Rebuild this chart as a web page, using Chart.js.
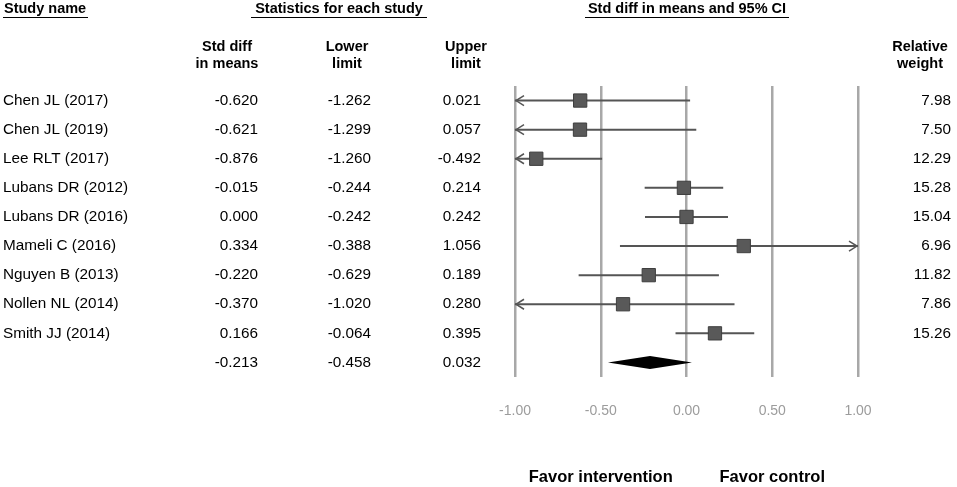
<!DOCTYPE html>
<html>
<head>
<meta charset="utf-8">
<script src="https://cdn.jsdelivr.net/npm/chart.js@4.4.1/dist/chart.umd.min.js"></script>
<style>
  body { margin: 0; background: #fff; }
  canvas { display: block; }
</style>
</head>
<body>
<canvas id="chart" width="957" height="487"></canvas>
<script>
// study data
const studies = ['Chen JL (2017)', 'Chen JL (2019)', 'Lee RLT (2017)', 'Lubans DR (2012)', 'Lubans DR (2016)',
                 'Mameli C (2016)', 'Nguyen B (2013)', 'Nollen NL (2014)', 'Smith JJ (2014)'];
const effect = [-0.620, -0.621, -0.876, -0.015, 0.000, 0.334, -0.220, -0.370, 0.166];
const lower  = [-1.262, -1.299, -1.260, -0.244, -0.242, -0.388, -0.629, -1.020, -0.064];
const upper  = [0.021, 0.057, -0.492, 0.214, 0.242, 1.056, 0.189, 0.280, 0.395];
const weight = [7.98, 7.50, 12.29, 15.28, 15.04, 6.96, 11.82, 7.86, 15.26];
const summaryEffect = [-0.213];
const summaryLower = [-0.458];
const summaryUpper = [0.032];
const xTicks = [-1, -0.5, 0, 0.5, 1];

const X_MIN = -1, X_MAX = 1;
const FONT = '"Liberation Sans", Arial, sans-serif';
const summaryRow = studies.length;

const datasets = [];
// squares (drawn on top)
datasets.push({
    type: 'scatter',
    data: effect.map((e, i) => ({ x: e, y: i })),
    pointStyle: 'rect',
    pointRadius: 9.4,
    backgroundColor: '#595959',
    borderColor: '#3f3f3f',
    borderWidth: 1,
    order: 0
});
// confidence interval lines, clipped to the axis
studies.forEach((s, i) => {
    datasets.push({
        type: 'line',
        data: [{ x: Math.max(lower[i], X_MIN), y: i }, { x: Math.min(upper[i], X_MAX), y: i }],
        borderColor: '#555555',
        borderWidth: 2,
        pointRadius: 0,
        order: 1
    });
});

const forestText = {
    id: 'forestText',
    afterDatasetsDraw(chart) {
        const ctx = chart.ctx;
        const xs = chart.scales.x, ys = chart.scales.y;
        ctx.save();
        // arrow heads for intervals beyond the axis
        ctx.strokeStyle = '#555555';
        ctx.lineWidth = 1.5;
        studies.forEach((s, i) => {
            const y = ys.getPixelForValue(i);
            if (lower[i] < X_MIN) {
                const x = xs.getPixelForValue(X_MIN) + 1;
                ctx.beginPath();
                ctx.moveTo(x + 8, y - 5); ctx.lineTo(x, y); ctx.lineTo(x + 8, y + 5);
                ctx.stroke();
            }
            if (upper[i] > X_MAX) {
                const x = xs.getPixelForValue(X_MAX) - 1;
                ctx.beginPath();
                ctx.moveTo(x - 8, y - 5); ctx.lineTo(x, y); ctx.lineTo(x - 8, y + 5);
                ctx.stroke();
            }
        });
        // summary diamond
        const yc = ys.getPixelForValue(summaryRow);
        const half = 6.5;
        ctx.fillStyle = '#000';
        ctx.beginPath();
        ctx.moveTo(xs.getPixelForValue(summaryLower[0]), yc);
        ctx.lineTo(xs.getPixelForValue(summaryEffect[0]), yc - half);
        ctx.lineTo(xs.getPixelForValue(summaryUpper[0]), yc);
        ctx.lineTo(xs.getPixelForValue(summaryEffect[0]), yc + half);
        ctx.closePath();
        ctx.fill();
        ctx.restore();
    },
    afterDraw(chart) {
        const ctx = chart.ctx;
        const xs = chart.scales.x, ys = chart.scales.y;
        ctx.save();
        ctx.fillStyle = '#000';
        ctx.textBaseline = 'middle';

        // top headers with underline
        ctx.font = 'bold 14.5px ' + FONT;
        const heads = [
            ['Study name', 4, 'left', 3, 88],
            ['Statistics for each study', 339, 'center', 251, 427],
            ['Std diff in means and 95% CI', 687, 'center', 585, 789]
        ];
        ctx.strokeStyle = '#000';
        ctx.lineWidth = 1.2;
        heads.forEach(h => {
            ctx.textAlign = h[2];
            ctx.fillText(h[0], h[1], 9);
            ctx.beginPath();
            ctx.moveTo(h[3], 17.5); ctx.lineTo(h[4], 17.5);
            ctx.stroke();
        });

        // column headers
        ctx.textAlign = 'center';
        [['Std diff', 'in means', 227], ['Lower', 'limit', 347], ['Upper', 'limit', 466], ['Relative', 'weight', 920]]
            .forEach(c => {
                ctx.fillText(c[0], c[2], 47);
                ctx.fillText(c[1], c[2], 64);
            });

        // study rows
        ctx.font = '15.3px ' + FONT;
        studies.forEach((s, i) => {
            const y = ys.getPixelForValue(i);
            ctx.textAlign = 'left';
            ctx.fillText(s, 3, y);
            ctx.textAlign = 'right';
            ctx.fillText(effect[i].toFixed(3), 258, y);
            ctx.fillText(lower[i].toFixed(3), 371, y);
            ctx.fillText(upper[i].toFixed(3), 481, y);
            ctx.fillText(weight[i].toFixed(2), 951, y);
        });
        const ys9 = ys.getPixelForValue(summaryRow);
        ctx.fillText(summaryEffect[0].toFixed(3), 258, ys9);
        ctx.fillText(summaryLower[0].toFixed(3), 371, ys9);
        ctx.fillText(summaryUpper[0].toFixed(3), 481, ys9);

        // favour labels
        ctx.font = 'bold 16.5px ' + FONT;
        ctx.textAlign = 'center';
        ctx.fillText('Favor intervention', xs.getPixelForValue(-0.5), 477);
        ctx.fillText('Favor control', xs.getPixelForValue(0.5), 477);
        ctx.restore();
    }
};

new Chart(document.getElementById('chart').getContext('2d'), {
    type: 'scatter',
    data: { datasets: datasets },
    options: {
        responsive: false,
        animation: false,
        devicePixelRatio: 1,
        events: [],
        layout: { padding: { left: 515, right: 99, top: 86, bottom: 0 } },
        plugins: { legend: { display: false }, tooltip: { enabled: false } },
        scales: {
            x: {
                type: 'linear',
                min: X_MIN,
                max: X_MAX,
                afterFit: (s) => { s.height = 110; },
                afterBuildTicks: (s) => { s.ticks = xTicks.map(v => ({ value: v })); },
                grid: { color: '#a8a8a8', lineWidth: 2.5, drawTicks: false },
                border: { display: false },
                ticks: {
                    padding: 26,
                    color: '#9c9c9c',
                    font: { family: FONT, size: 14 },
                    callback: (v) => v.toFixed(2)
                }
            },
            y: {
                type: 'linear',
                min: -0.5,
                max: summaryRow + 0.5,
                reverse: true,
                display: false
            }
        }
    },
    plugins: [forestText]
});
</script>
</body>
</html>
